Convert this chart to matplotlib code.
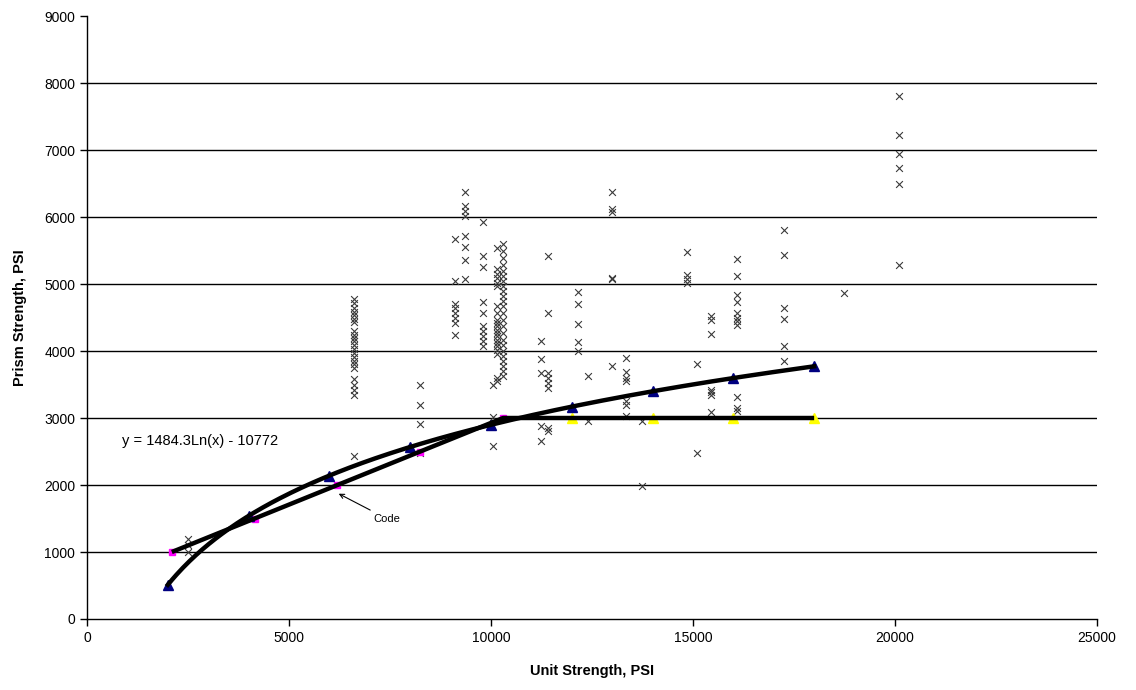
import numpy as np
import matplotlib
matplotlib.use("Agg")
import matplotlib.pyplot as plt

plt.rcParams['font.family'] = ['Liberation Sans', 'DejaVu Sans']

# ---- Data: test results (unit strength, prism strength) ----
test_x = (
    [2500] * 3
    + [6600] * 22 + [6600]
    + [8250] * 4
    + [9100] * 8
    + [9350] * 8
    + [9800] * 10
    + [10050] * 3
    + [10150] * 21
    + [10300] * 24
    + [11250] * 5
    + [11400] * 8
    + [12150] * 5
    + [12400] * 2
    + [13000] * 6
    + [13350] * 7
    + [13750] * 2
    + [14850] * 4
    + [15100] * 2
    + [15450] * 7
    + [16100] * 11
    + [17250] * 6
    + [18750]
    + [20100] * 6
)
test_y = (
    [1200, 1100, 1000]
    + [4770, 4710, 4645, 4585, 4530, 4480, 4430, 4295, 4245, 4195, 4145, 4095,
       4030, 3970, 3910, 3855, 3800, 3750, 3575, 3500, 3425, 3350] + [2440]
    + [3500, 3200, 2915, 2480]
    + [5675, 5040, 4695, 4645, 4570, 4495, 4420, 4235]
    + [6380, 6165, 6090, 6015, 5715, 5550, 5355, 5070]
    + [5930, 5415, 5260, 4730, 4570, 4370, 4295, 4220, 4145, 4080]
    + [3500, 3020, 2575]
    + [5540, 5220, 5145, 5095, 5020, 4970, 4670, 4570, 4470, 4420, 4370,
       4320, 4270, 4220, 4170, 4120, 4070, 4020, 3950, 3600, 3550]
    + [5590, 5490, 5390, 5290, 5190, 5115, 5045, 4970, 4895, 4820, 4745,
       4670, 4570, 4470, 4370, 4270, 4170, 4095, 3995, 3920, 3845, 3770,
       3700, 3620]
    + [4155, 3880, 3675, 2875, 2650]
    + [5415, 4570, 3675, 3600, 3525, 3450, 2850, 2800]
    + [4880, 4705, 4410, 4135, 3995]
    + [3620, 2950]
    + [6380, 6115, 6080, 5095, 5070, 3780]
    + [3900, 3680, 3600, 3550, 3250, 3200, 3035]
    + [2950, 1990]
    + [5475, 5130, 5080, 5020]
    + [3800, 2480]
    + [4520, 4470, 4255, 3425, 3385, 3350, 3090]
    + [5380, 5120, 4835, 4730, 4570, 4495, 4445, 4385, 3310, 3150, 3110]
    + [5805, 5440, 4645, 4480, 4080, 3850]
    + [4870]
    + [7800, 7225, 6940, 6725, 6500, 5280]
)

# ---- Code requirement (unit strength -> prism strength) ----
code_x = [2100, 4150, 6200, 8250, 10300]
code_y = [1000, 1500, 2000, 2500, 3000]
cap_x = [12000, 14000, 16000, 18000]
cap_y = [3000, 3000, 3000, 3000]

# ---- Logarithmic trend line ----
fit_a, fit_b = 1484.3, -10772
fit_pts_x = [2000, 4000, 6000, 8000, 10000, 12000, 14000, 16000, 18000]

x_ticks = [0, 5000, 10000, 15000, 20000, 25000]
y_ticks = [0, 1000, 2000, 3000, 4000, 5000, 6000, 7000, 8000, 9000]

fig = plt.figure(figsize=(11.36, 6.90), dpi=100)
ax = fig.add_axes([0.0766, 0.1029, 0.889, 0.8739])

for yv in y_ticks[1:-1]:
    ax.axhline(yv, color='black', lw=1.0, zorder=1)

ax.scatter(test_x, test_y, marker='x', s=24, color='#3a3a3a', linewidths=0.8, zorder=3)

# code curve
all_code_x = code_x + cap_x
all_code_y = code_y + cap_y
ax.plot(all_code_x, all_code_y, color='black', lw=3.2, zorder=5, solid_capstyle='butt')
ax.plot(code_x, code_y, ls='none', marker='s', ms=4, color='#ff00ff', zorder=4)
ax.plot(cap_x, cap_y, ls='none', marker='^', ms=7, color='#ffff00', zorder=4)

# log fit
xx = np.linspace(fit_pts_x[0], fit_pts_x[-1], 300)
ax.plot(xx, fit_a * np.log(xx) + fit_b, color='black', lw=3.2, zorder=5)
fpx = np.array(fit_pts_x, dtype=float)
ax.plot(fpx, fit_a * np.log(fpx) + fit_b, ls='none', marker='^', ms=7,
        color='#000080', zorder=4)

ax.text(860, 2660, 'y = 1484.3Ln(x) - 10772', fontsize=10.5, va='center', ha='left')
ax.annotate('Code', xy=(6230, 1870), xytext=(7080, 1500), fontsize=8,
            va='center', ha='left',
            arrowprops=dict(arrowstyle='->', color='black', lw=0.8, shrinkA=1, shrinkB=0))

ax.set_xlim(0, 25000)
ax.set_ylim(0, 9000)
ax.set_xticks(x_ticks)
ax.set_yticks(y_ticks)
ax.tick_params(direction='out', length=5, width=1, labelsize=10)
for s in ['top', 'right']:
    ax.spines[s].set_visible(False)
for s in ['left', 'bottom']:
    ax.spines[s].set_linewidth(1.0)
ax.set_xlabel('Unit Strength, PSI', fontsize=10.5, fontweight='bold', labelpad=14)
ax.set_ylabel('Prism Strength, PSI', fontsize=10.5, fontweight='bold', labelpad=12)

fig.savefig('out.png', dpi=100)
